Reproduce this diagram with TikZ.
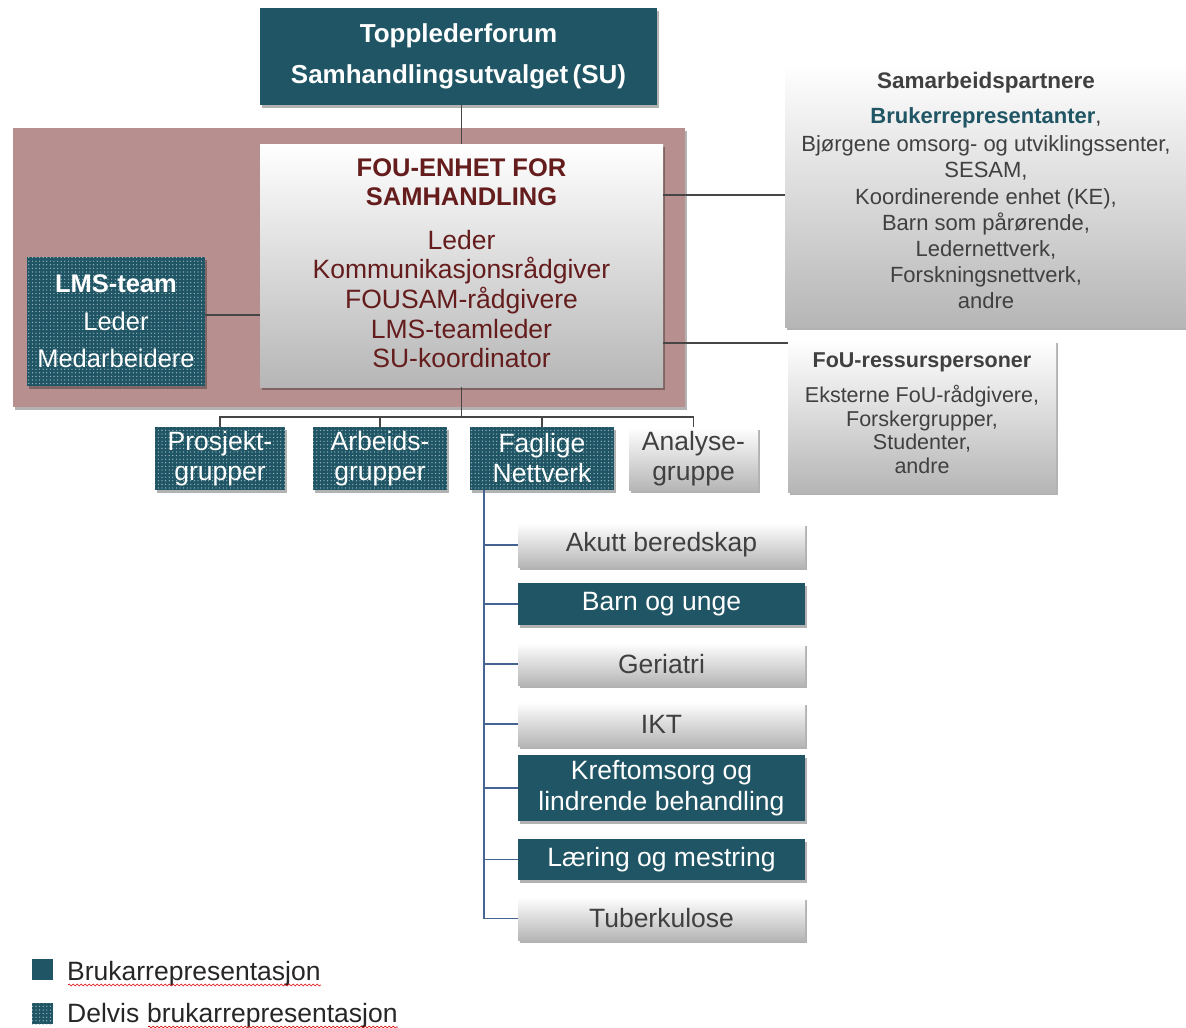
\documentclass[tikz,border=0pt]{standalone}
\usepackage{fontspec}
\setmainfont{Liberation Sans}
\usetikzlibrary{shadows,patterns.meta,decorations.pathmorphing,calc}
\definecolor{tealc}{RGB}{31,85,100}
\definecolor{pinkc}{RGB}{184,143,143}
\definecolor{greyc}{RGB}{182,182,182}
\definecolor{textc}{RGB}{64,64,64}
\definecolor{fouc}{RGB}{100,28,28}
\definecolor{linec}{RGB}{70,70,70}
\definecolor{bluec}{RGB}{70,100,145}
\definecolor{dotc}{RGB}{170,195,200}
\newcommand{\fsz}[2]{\fontsize{#1}{#2}\selectfont}
\begin{document}
\begin{tikzpicture}[x=1pt,y=-1pt,
  base/.style={rectangle, inner sep=0pt, anchor=center, align=center},
  shade/.style={drop shadow={shadow xshift=1.5pt, shadow yshift=-2.5pt, opacity=0.3, fill=black}},
  solidbox/.style={base, shade, fill=tealc, text=white},
  dotfill/.style={preaction={fill=tealc}, pattern={Dots[distance=3.6pt, radius=0.65pt]}, pattern color=dotc},
  dotbox/.style={base, shade, dotfill, text=white},
  greybox/.style={base, shade, top color=white, bottom color=greyc, text=textc},
  txt/.style={inner sep=0pt, align=center, anchor=center},
  link/.style={draw=linec, line width=1.1pt},
  bluelink/.style={draw=bluec, line width=1.3pt},
  wavy/.style={draw=red!85!black, line width=0.6pt, decorate, decoration={snake, amplitude=0.9pt, segment length=4pt}},
  listbox/.style={minimum width=287pt, font=\fsz{26.5}{31}},
  grp/.style={minimum height=63pt, font=\fsz{26.5}{30}},
  legtext/.style={inner sep=0pt, anchor=base west, font=\fsz{26.5}{30}, text=black!85},
]
\useasboundingbox (0,0) rectangle (1186,1028);

% pink panel
\node[base, shade, fill=pinkc, minimum width=672pt, minimum height=279pt] (panel) at (349,267.5) {};

% top box
\node[solidbox, minimum width=397pt, minimum height=97pt, font=\fsz{26}{41}\bfseries] (top) at (458.5,56.5)
  {Topplederforum\\Samhandlingsutvalget\,(SU)};

% FOU box
\node[greybox, minimum width=403pt, minimum height=243pt] (fou) at (461.5,265.5) {};
\node[txt, text=fouc, font=\fsz{25.5}{29}\bfseries] (foutitle) at (461.5,182) {FOU-ENHET FOR\\SAMHANDLING};
\node[txt, text=fouc, font=\fsz{26.5}{29.6}] (foubody) at (461.5,299)
  {Leder\\Kommunikasjonsrådgiver\\FOUSAM-rådgivere\\LMS-teamleder\\SU-koordinator};

% LMS team
\node[dotbox, minimum width=178pt, minimum height=129pt, font=\fsz{25.5}{37.5}] (lms) at (116,321.5)
  {\textbf{LMS-team}\\Leder\\Medarbeidere};

% Samarbeidspartnere
\node[greybox, minimum width=401pt, minimum height=264pt] (sam) at (985.5,195) {};
\node[txt, text=textc, font=\fsz{22.5}{26}\bfseries] (samtitle) at (986,83) {Samarbeidspartnere};
\node[txt, text=textc, font=\fsz{22}{26}] (sambruk) at (986,118) {{\color{tealc}\bfseries Brukerrepresentanter},};
\node[txt, text=textc, font=\fsz{22}{26.2}] (sambody) at (986,222.5)
  {Bjørgene omsorg- og utviklingssenter,\\SESAM,\\Koordinerende enhet (KE),\\Barn som pårørende,\\Ledernettverk,\\Forskningsnettverk,\\andre};

% FoU-ressurspersoner
\node[greybox, minimum width=268pt, minimum height=152pt] (res) at (922,416) {};
\node[txt, text=textc, font=\fsz{21.5}{26}\bfseries] (restitle) at (922,362) {FoU-ressurspersoner};
\node[txt, text=textc, font=\fsz{21.5}{23.7}] (resbody) at (922,429.5)
  {Eksterne FoU-rådgivere,\\Forskergrupper,\\Studenter,\\andre};

% group boxes
\node[dotbox, grp, minimum width=130pt] (pg) at (220,458.5) {Prosjekt-\\grupper};
\node[dotbox, grp, minimum width=134pt] (ag) at (380,458.5) {Arbeids-\\grupper};
\node[dotbox, grp, minimum width=144pt] (fg) at (542,458.5) {Faglige\\Nettverk};
\node[greybox, grp, minimum width=129pt] (an) at (693.5,458.5) {Analyse-\\gruppe};

% faglige list
\node[greybox, listbox, minimum height=44pt] (akutt) at (661.5,545) {Akutt beredskap};
\node[solidbox, listbox, minimum height=42pt] (barn) at (661.5,604) {Barn og unge};
\node[greybox, listbox, minimum height=42pt] (geri) at (661.5,664) {Geriatri};
\node[greybox, listbox, minimum height=44pt] (ikt) at (661.5,724) {IKT};
\node[solidbox, listbox, minimum height=66pt] (kreft) at (661.5,788) {Kreftomsorg og\\lindrende behandling};
\node[solidbox, listbox, minimum height=41pt] (laer) at (661.5,859.5) {Læring og mestring};
\node[greybox, listbox, minimum height=43pt] (tub) at (661.5,918.5) {Tuberkulose};

% connectors
\draw[link] (fou.north) -- (fou.north |- top.south);
\draw[link] (lms.east |- 0,315) -- (fou.west |- 0,315);
\draw[link] (fou.east |- 0,195) -- (sam.west |- 0,195);
\draw[link] (fou.east |- 0,343) -- (res.west |- 0,343);
\coordinate (bus) at (461.5,417);
\draw[link] (fou.south) -- (bus);
\draw[link] (pg.north) -- (pg.north |- bus) -- (an.north |- bus) -- (an.north);
\draw[link] (ag.north) -- (ag.north |- bus);
\draw[link] (fg.north) -- (fg.north |- bus);

\coordinate (fv) at (484,490);
\draw[bluelink] (fv |- fg.south) -- (fv |- tub.west) -- (tub.west);
\foreach \n in {akutt,barn,geri,ikt,kreft,laer}
  \draw[bluelink] (fv |- \n.west) -- (\n.west);

% legend
\node[base, fill=tealc, minimum width=21pt, minimum height=21pt] (sq1) at (42.5,969.5) {};
\node[base, dotfill, minimum width=21pt, minimum height=21pt] (sq2) at (42.5,1013.5) {};
\node[legtext] (l1) at (67,980) {Brukarrepresentasjon};
\node[legtext] (l2a) at (67,1022) {Delvis};
\node[legtext] (l2b) at ($(l2a.base east)+(7.4,0)$) {brukarrepresentasjon};
\draw[wavy] ($(l1.base west)+(1,5)$) -- ($(l1.base east)+(0,5)$);
\draw[wavy] ($(l2b.base west)+(1,5)$) -- ($(l2b.base east)+(0,5)$);
\end{tikzpicture}
\end{document}
